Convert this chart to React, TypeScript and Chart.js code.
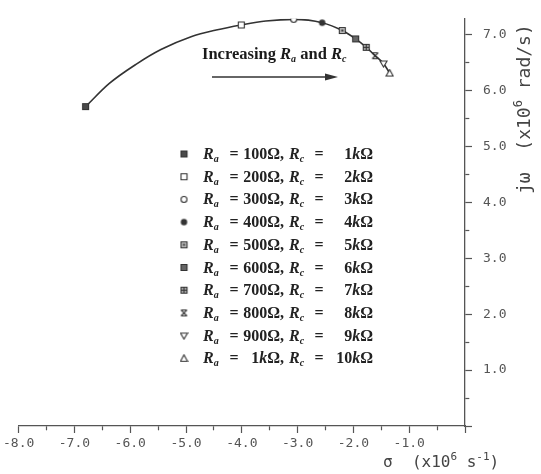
import React, { useEffect, useRef } from 'react';
import { Chart, registerables } from 'chart.js';

Chart.register(...registerables);

// ---- data ----
const curveSigma = [-6.80, -6.38, -5.89, -5.45, -4.91, -4.46, -4.01, -3.57, -3.07, -2.56, -2.20, -1.96, -1.77, -1.61, -1.46, -1.35];
const curveOmega = [5.71, 6.12, 6.47, 6.73, 6.96, 7.08, 7.17, 7.24, 7.27, 7.21, 7.07, 6.92, 6.77, 6.62, 6.48, 6.31];

const markerSigma = [-6.80, -4.01, -3.07, -2.56, -2.20, -1.96, -1.77, -1.61, -1.46, -1.35];
const markerOmega = [5.71, 7.17, 7.27, 7.21, 7.07, 6.92, 6.77, 6.62, 6.48, 6.31];
const markerKinds = ['filledSquare', 'openSquare', 'openCircle', 'filledCircle', 'dotSquare', 'darkSquare', 'gridSquare', 'bowtie', 'downTriangle', 'upTriangle'];

const raNumbers = ['100', '200', '300', '400', '500', '600', '700', '800', '900', '1'];
const raUnits = ['Ω', 'Ω', 'Ω', 'Ω', 'Ω', 'Ω', 'Ω', 'Ω', 'Ω', 'kΩ'];
const rcNumbers = ['1', '2', '3', '4', '5', '6', '7', '8', '9', '10'];

const xTickValues = [-8, -7.5, -7, -6.5, -6, -5.5, -5, -4.5, -4, -3.5, -3, -2.5, -2, -1.5, -1, -0.5, 0];
const yTickValues = [0, 0.5, 1, 1.5, 2, 2.5, 3, 3.5, 4, 4.5, 5, 5.5, 6, 6.5, 7];
const xMin = -8;
const xMax = 0;
const yMin = 0;
const yMax = 7.28;

const INK = '#333';
const AXIS = '#555';
const MONO = '"DejaVu Sans Mono", monospace';
const SERIF = '"Liberation Serif", serif';

function makeMarker(kind: string): HTMLCanvasElement {
  const c = document.createElement('canvas');
  c.width = 9;
  c.height = 9;
  const g = c.getContext('2d')!;
  g.lineWidth = 1.1;
  g.strokeStyle = INK;
  const sq = () => { g.beginPath(); g.rect(1.5, 1.5, 6, 6); };
  switch (kind) {
    case 'filledSquare': sq(); g.fillStyle = '#4a4a4a'; g.fill(); g.stroke(); break;
    case 'openSquare': sq(); g.fillStyle = '#fff'; g.fill(); g.stroke(); break;
    case 'openCircle': g.beginPath(); g.arc(4.5, 4.5, 3, 0, Math.PI * 2); g.fillStyle = '#fff'; g.fill(); g.stroke(); break;
    case 'filledCircle': g.beginPath(); g.arc(4.5, 4.5, 3.2, 0, Math.PI * 2); g.fillStyle = INK; g.fill(); break;
    case 'dotSquare': sq(); g.fillStyle = '#bbb'; g.fill(); g.stroke(); g.fillStyle = INK; g.fillRect(3.5, 3.5, 2, 2); break;
    case 'darkSquare': sq(); g.fillStyle = '#666'; g.fill(); g.stroke(); break;
    case 'gridSquare': sq(); g.fillStyle = '#aaa'; g.fill(); g.stroke();
      g.beginPath(); g.moveTo(4.5, 1.5); g.lineTo(4.5, 7.5); g.moveTo(1.5, 4.5); g.lineTo(7.5, 4.5); g.stroke(); break;
    case 'bowtie':
      g.beginPath(); g.moveTo(1.5, 1.5); g.lineTo(7.5, 1.5); g.moveTo(1.5, 7.5); g.lineTo(7.5, 7.5);
      g.moveTo(1.5, 1.5); g.lineTo(7.5, 7.5); g.moveTo(7.5, 1.5); g.lineTo(1.5, 7.5); g.stroke(); break;
    case 'downTriangle': g.beginPath(); g.moveTo(1, 2); g.lineTo(8, 2); g.lineTo(4.5, 8); g.closePath(); g.fillStyle = '#fff'; g.fill(); g.stroke(); break;
    case 'upTriangle': g.beginPath(); g.moveTo(4.5, 1); g.lineTo(8, 7.5); g.lineTo(1, 7.5); g.closePath(); g.fillStyle = '#fff'; g.fill(); g.stroke(); break;
  }
  return c;
}

type Part = { t: string; font: string; dy?: number };

function richWidth(ctx: CanvasRenderingContext2D, parts: Part[]) {
  let w = 0;
  for (const p of parts) { ctx.font = p.font; w += ctx.measureText(p.t).width; }
  return w;
}
function drawRich(ctx: CanvasRenderingContext2D, parts: Part[], x: number, base: number) {
  let cx = x;
  for (const p of parts) {
    ctx.font = p.font;
    ctx.fillText(p.t, cx, base + (p.dy || 0));
    cx += ctx.measureText(p.t).width;
  }
  return cx;
}

export default function App() {
  const ref = useRef<HTMLCanvasElement>(null);

  useEffect(() => {
    const canvas = ref.current!;
    const markers = markerKinds.map(makeMarker);

    const overlay = {
      id: 'overlay',
      afterDraw(chart: any) {
        const ctx: CanvasRenderingContext2D = chart.ctx;
        ctx.save();
        ctx.textBaseline = 'alphabetic';
        ctx.textAlign = 'left';

        // legend
        const fR = `italic bold 16px ${SERIF}`;
        const fK = `italic bold 16px ${SERIF}`;
        const fSub = `italic bold 10px ${SERIF}`;
        const fN = `bold 16px ${SERIF}`;
        ctx.fillStyle = '#222';
        for (let i = 0; i < markers.length; i++) {
          const base = 159 + i * 22.7;
          const m = markers[i];
          ctx.drawImage(m, 184 - m.width / 2, base - 5 - m.height / 2);
          drawRich(ctx, [{ t: 'R', font: fR }, { t: 'a', font: fSub, dy: 3 }], 203, base);
          ctx.font = fN;
          let w = ctx.measureText('=').width;
          ctx.fillText('=', 234 - w / 2, base);
          const raParts: Part[] = [{ t: raNumbers[i], font: fN }];
          if (raUnits[i] === 'kΩ') raParts.push({ t: 'k', font: fK });
          raParts.push({ t: 'Ω,', font: fN });
          drawRich(ctx, raParts, 284 - richWidth(ctx, raParts), base);
          drawRich(ctx, [{ t: 'R', font: fR }, { t: 'c', font: fSub, dy: 3 }], 289, base);
          ctx.font = fN;
          w = ctx.measureText('=').width;
          ctx.fillText('=', 319 - w / 2, base);
          const rcParts: Part[] = [{ t: rcNumbers[i], font: fN }, { t: 'k', font: fK }, { t: 'Ω', font: fN }];
          drawRich(ctx, rcParts, 373 - richWidth(ctx, rcParts), base);
        }

        // annotation
        const fb = `bold 16.5px ${SERIF}`;
        const fbi = `italic bold 16.5px ${SERIF}`;
        const fbs = `italic bold 10px ${SERIF}`;
        ctx.fillStyle = '#1a1a1a';
        drawRich(ctx, [
          { t: 'Increasing ', font: fb }, { t: 'R', font: fbi }, { t: 'a', font: fbs, dy: 3 },
          { t: ' and ', font: fb }, { t: 'R', font: fbi }, { t: 'c', font: fbs, dy: 3 },
        ], 202, 59);
        ctx.strokeStyle = INK;
        ctx.lineWidth = 1.6;
        ctx.beginPath();
        ctx.moveTo(212, 77);
        ctx.lineTo(327, 77);
        ctx.stroke();
        ctx.fillStyle = INK;
        ctx.beginPath();
        ctx.moveTo(338, 77);
        ctx.lineTo(325, 73.5);
        ctx.lineTo(325, 80.5);
        ctx.closePath();
        ctx.fill();

        // axis titles
        ctx.fillStyle = '#444';
        drawRich(ctx, [
          { t: 'σ  (x10', font: `16px ${MONO}` }, { t: '6', font: `11px ${MONO}`, dy: -7 },
          { t: ' s', font: `16px ${MONO}` }, { t: '-1', font: `11px ${MONO}`, dy: -7 },
          { t: ')', font: `16px ${MONO}` },
        ], 383, 467);
        ctx.save();
        ctx.translate(530, 194);
        ctx.rotate(-Math.PI / 2);
        drawRich(ctx, [
          { t: 'jω  (x10', font: `18px ${MONO}` }, { t: '6', font: `12px ${MONO}`, dy: -8 },
          { t: ' rad/s)', font: `18px ${MONO}` },
        ], 0, 0);
        ctx.restore();
        ctx.restore();
      },
    };

    const labelFmt = (v: any) => {
      const n = Number(v);
      return Number.isInteger(n) && n !== 0 ? n.toFixed(1) : '';
    };
    const dash = (c: any) => (c.tick && Number.isInteger(c.tick.value) ? [] : [4, 30]);

    const chart = new Chart(canvas, {
      type: 'scatter',
      data: {
        datasets: [
          {
            data: curveSigma.map((x, i) => ({ x, y: curveOmega[i] })),
            showLine: true,
            borderColor: INK,
            borderWidth: 1.6,
            pointRadius: 0,
            cubicInterpolationMode: 'monotone',
            fill: false,
            order: 2,
          } as any,
          {
            data: markerSigma.map((x, i) => ({ x, y: markerOmega[i] })),
            showLine: false,
            pointStyle: markers as any,
            pointRadius: 4,
            order: 1,
          } as any,
        ],
      },
      options: {
        responsive: false,
        animation: false,
        layout: { padding: { left: 17, top: 12, right: 0, bottom: 0 } },
        plugins: { legend: { display: false }, tooltip: { enabled: false } },
        scales: {
          x: {
            type: 'linear',
            position: 'bottom',
            min: xMin,
            max: xMax,
            afterBuildTicks: (s: any) => { s.ticks = xTickValues.map((v) => ({ value: v })); },
            afterFit: (s: any) => { s.height = 48; },
            grid: { drawOnChartArea: false, drawTicks: true, tickLength: 7, color: AXIS, tickColor: AXIS, tickWidth: 1.2, tickBorderDash: dash } as any,
            border: { color: AXIS, width: 1.3 },
            ticks: { autoSkip: false, maxRotation: 0, padding: 3, color: '#555', font: { family: MONO, size: 13 }, callback: labelFmt },
          },
          y: {
            type: 'linear',
            position: 'right',
            min: yMin,
            max: yMax,
            afterBuildTicks: (s: any) => { s.ticks = yTickValues.map((v) => ({ value: v })); },
            afterFit: (s: any) => { s.width = 76; },
            grid: { drawOnChartArea: false, drawTicks: true, tickLength: 7, color: AXIS, tickColor: AXIS, tickWidth: 1.2, tickBorderDash: dash } as any,
            border: { color: AXIS, width: 1.3 },
            ticks: { autoSkip: false, padding: 11, color: '#555', font: { family: MONO, size: 13 }, callback: labelFmt },
          },
        },
      } as any,
      plugins: [overlay],
    });
    return () => chart.destroy();
  }, []);

  return (
    <div style={{ position: 'fixed', left: 0, top: 0, width: 541, height: 474, background: '#fff' }}>
      <canvas ref={ref} width={541} height={474} style={{ width: 541, height: 474, display: 'block' }} />
    </div>
  );
}
